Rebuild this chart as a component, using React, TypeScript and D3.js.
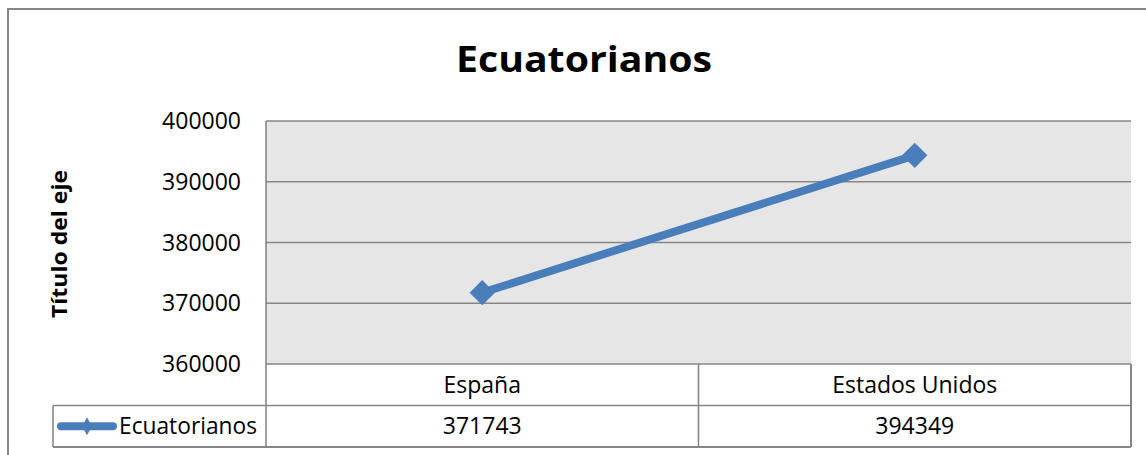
import React from 'react';
import * as d3 from 'd3';

// chart data
const categories = ['España', 'Estados Unidos'];
const values = [371743, 394349];
const yTicks = [360000, 370000, 380000, 390000, 400000];
const seriesName = 'Ecuatorianos';
const chartTitle = 'Ecuatorianos';
const axisTitle = 'Título del eje';

const W = 1146;
const H = 455;
const plot = { left: 266, right: 1131, top: 121, bottom: 364 };
const rowH = 41.5;
const legendLeft = 53;
const lineColor = '#4a7ebb';
const borderColor = '#868686';
const font = "'Open Sans', 'Liberation Sans', sans-serif";

const App = () => {
  const xScale = d3.scaleBand<string>()
    .domain(categories)
    .range([plot.left, plot.right]);

  const yScale = d3.scaleLinear()
    .domain([yTicks[0], yTicks[yTicks.length - 1]])
    .range([plot.bottom, plot.top]);

  const points = categories.map((c, i) => [
    (xScale(c) as number) + xScale.bandwidth() / 2,
    yScale(values[i]),
  ] as [number, number]);

  const line = d3.line();
  const diamond = d3.symbol().type(d3.symbolSquare).size(320)();

  const row1 = plot.bottom;
  const row2 = row1 + rowH;
  const row3 = row2 + rowH;
  const legendY = row2 + rowH / 2;

  return (
    <svg width={W} height={H} style={{ position: 'absolute', left: 0, top: 0, background: '#fff' }}>
      {/* outer chart border */}
      <rect x={8} y={9} width={W + 20} height={H + 20} fill="#fff" stroke={borderColor} strokeWidth={2} />

      <text x={584} y={72} textAnchor="middle" fontFamily={font} fontWeight="bold" fontSize={36}
        fill="#000" textLength={256} lengthAdjust="spacingAndGlyphs">{chartTitle}</text>

      {/* plot area */}
      <rect x={plot.left} y={plot.top} width={plot.right - plot.left} height={plot.bottom - plot.top}
        fill="#e6e6e6" />
      {yTicks.map(t => (
        <line key={t} x1={plot.left} x2={plot.right} y1={yScale(t)} y2={yScale(t)}
          stroke={borderColor} strokeWidth={1.6} />
      ))}
      <line x1={plot.left} x2={plot.left} y1={plot.top} y2={row3} stroke={borderColor} strokeWidth={1.6} />

      {yTicks.map(t => (
        <text key={t} x={241} y={yScale(t)} dy="0.35em" textAnchor="end" fontFamily={font}
          fontSize={23} fill="#000">{t}</text>
      ))}

      <text transform={`translate(67,${244}) rotate(-90)`} textAnchor="middle" fontFamily={font}
        fontWeight="bold" fontSize={22} fill="#000" textLength={148} lengthAdjust="spacingAndGlyphs">{axisTitle}</text>

      {/* data table */}
      <line x1={legendLeft} x2={plot.right} y1={row2} y2={row2} stroke={borderColor} strokeWidth={1.6} />
      <line x1={legendLeft} x2={plot.right} y1={row3} y2={row3} stroke={borderColor} strokeWidth={2} />
      <line x1={legendLeft} x2={legendLeft} y1={row2} y2={row3} stroke={borderColor} strokeWidth={1.6} />
      <line x1={plot.right} x2={plot.right} y1={row1} y2={row3} stroke={borderColor} strokeWidth={2} />
      {categories.slice(1).map(c => (
        <line key={c} x1={xScale(c)} x2={xScale(c)} y1={row1} y2={row3} stroke={borderColor} strokeWidth={1.6} />
      ))}
      {categories.map((c, i) => (
        <g key={c}>
          <text x={points[i][0]} y={row1 + rowH / 2} dy="0.35em" textAnchor="middle" fontFamily={font}
            fontSize={23} fill="#000">{c}</text>
          <text x={points[i][0]} y={legendY} dy="0.35em" textAnchor="middle" fontFamily={font}
            fontSize={23} fill="#000">{values[i]}</text>
        </g>
      ))}

      {/* legend key */}
      <line x1={61} x2={113} y1={legendY} y2={legendY} stroke={lineColor} strokeWidth={8} strokeLinecap="round" />
      <path d="M87,418 L92,427 L87,436 L82,427 Z" transform={`translate(0,${legendY - 427})`} fill={lineColor} />
      <text x={119} y={legendY} dy="0.35em" fontFamily={font} fontSize={23} fill="#000"
        textLength={138} lengthAdjust="spacingAndGlyphs">{seriesName}</text>

      {/* series */}
      <path d={line(points) || ''} fill="none" stroke={lineColor} strokeWidth={8} strokeLinejoin="round" />
      {points.map((p, i) => (
        <path key={i} d={diamond || ''} transform={`translate(${p[0]},${p[1]}) rotate(45)`} fill={lineColor} />
      ))}
    </svg>
  );
};

export default App;
